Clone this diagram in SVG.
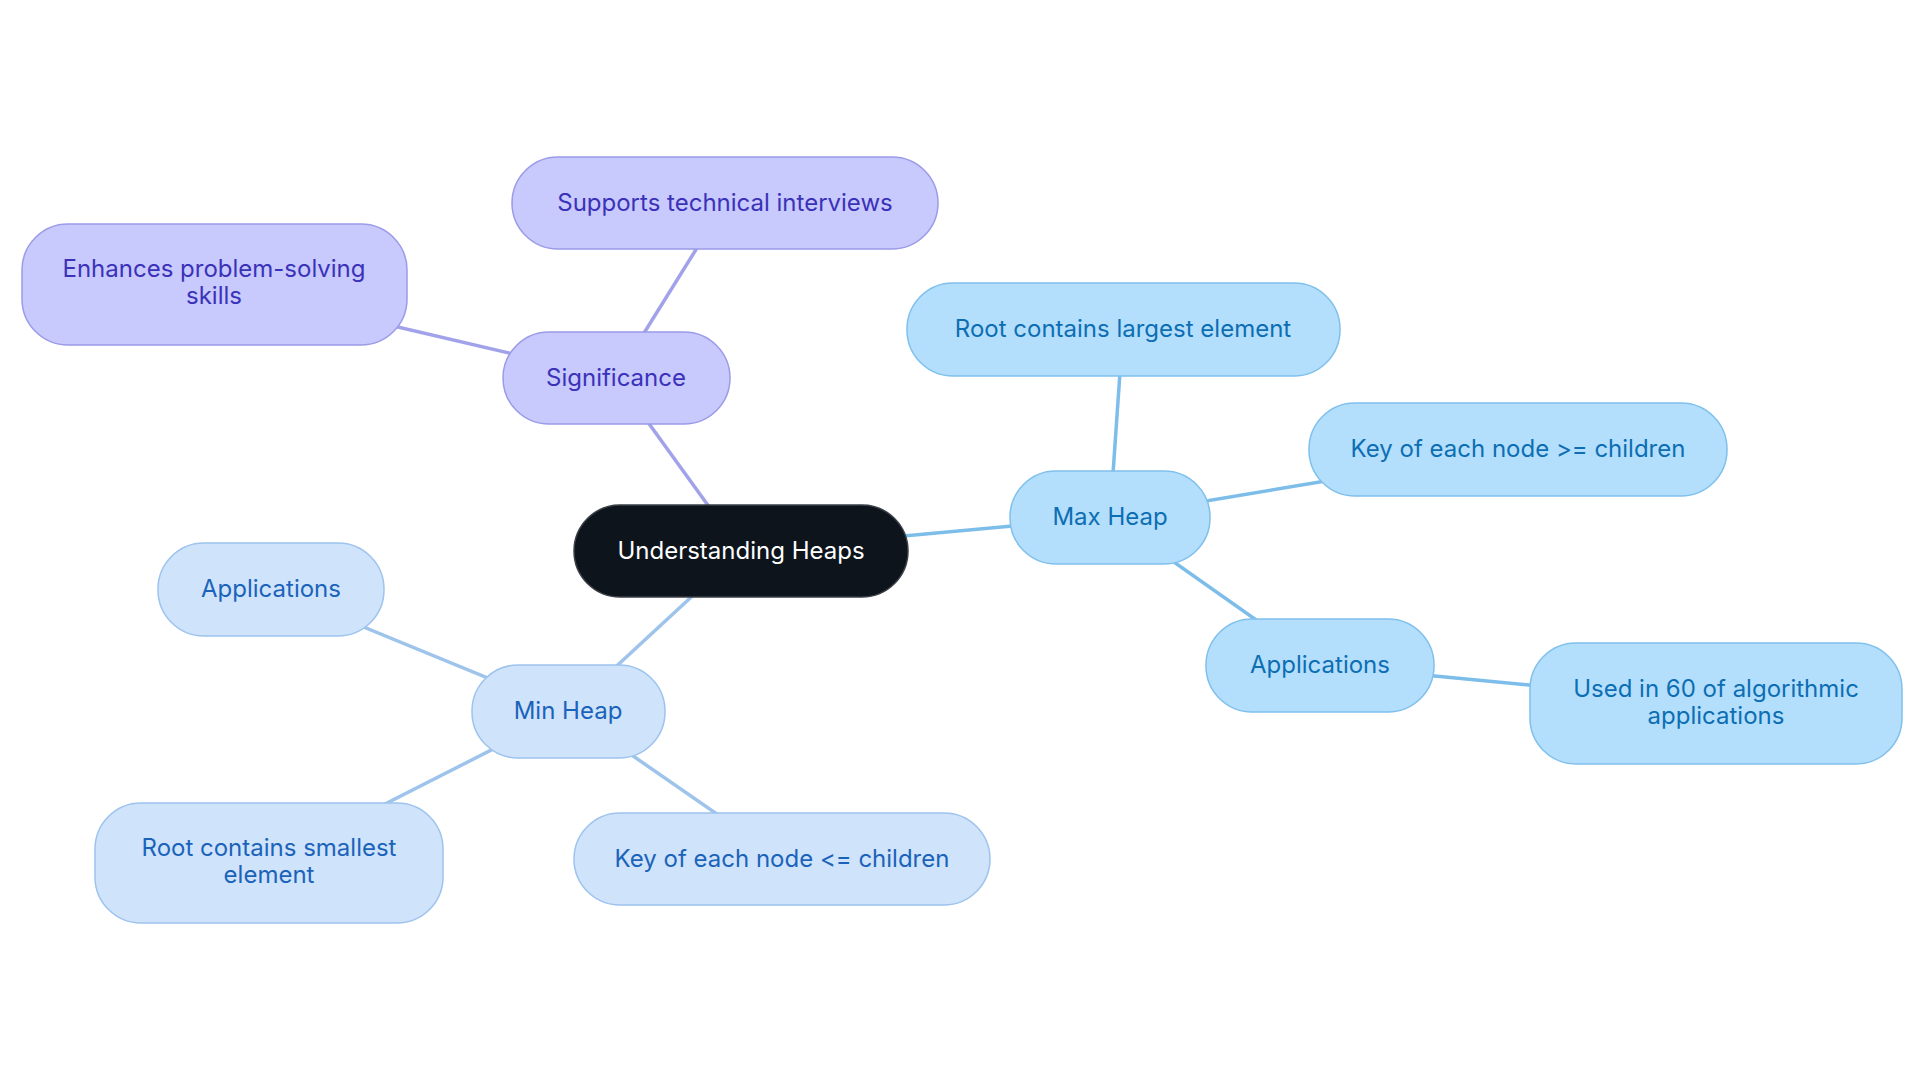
<svg xmlns="http://www.w3.org/2000/svg" width="1920" height="1083" viewBox="0 0 1920 1083">
<style>
text{font-family:Inter,"Noto Sans","Liberation Sans",sans-serif;font-size:24px;text-anchor:middle}
.p rect{fill:#c8c9fd;stroke:#9b9be8;stroke-width:1.5}
.p text{fill:#3a32b8}
.b rect{fill:#b3dffc;stroke:#7fc0ec;stroke-width:1.5}
.b text{fill:#0d6eb3}
.m rect{fill:#cfe3fb;stroke:#9dc3ee;stroke-width:1.5}
.m text{fill:#1b63ba}
.r rect{fill:#0d141c;stroke:#3a3f46;stroke-width:1.5}
.r text{fill:#ffffff}
#connectors line{stroke-width:3.5;fill:none}
.cp{stroke:#a1a2ea}
.cb{stroke:#7cbde9}
.cm{stroke:#9ec4ec}
</style>
<rect width="1920" height="1083" fill="#ffffff"/>
<g id="connectors">
<line class="cp" x1="741" y1="551" x2="616" y2="378"/>
<line class="cp" x1="616" y1="378" x2="725" y2="203"/>
<line class="cp" x1="616" y1="378" x2="214" y2="284"/>
<line class="cb" x1="741" y1="551" x2="1110" y2="517"/>
<line class="cb" x1="1110" y1="517" x2="1123" y2="329"/>
<line class="cb" x1="1110" y1="517" x2="1518" y2="449"/>
<line class="cb" x1="1110" y1="517" x2="1320" y2="665"/>
<line class="cb" x1="1320" y1="665" x2="1716" y2="703"/>
<line class="cm" x1="741" y1="551" x2="568" y2="711"/>
<line class="cm" x1="568" y1="711" x2="271" y2="589"/>
<line class="cm" x1="568" y1="711" x2="269" y2="863"/>
<line class="cm" x1="568" y1="711" x2="782" y2="859"/>
</g>
<g id="root" class="r"><rect x="574" y="505" width="334" height="92" rx="46"/><text x="741" y="559">Understanding Heaps</text></g>
<g id="significance" class="p"><rect x="503" y="332" width="227" height="92" rx="46"/><text x="616" y="386">Significance</text></g>
<g id="supports" class="p"><rect x="512" y="157" width="426" height="92" rx="46"/><text x="725" y="211">Supports technical interviews</text></g>
<g id="enhances" class="p"><rect x="22" y="224" width="385" height="121" rx="46"/><text x="214" y="277">Enhances problem-solving</text><text x="214" y="304">skills</text></g>
<g id="maxheap" class="b"><rect x="1010" y="471" width="200" height="93" rx="46"/><text x="1110" y="525">Max Heap</text></g>
<g id="rootlargest" class="b"><rect x="907" y="283" width="433" height="93" rx="46"/><text x="1123" y="337">Root contains largest element</text></g>
<g id="keygte" class="b"><rect x="1309" y="403" width="418" height="93" rx="46"/><text x="1518" y="457">Key of each node &gt;= children</text></g>
<g id="appsmax" class="b"><rect x="1206" y="619" width="228" height="93" rx="46"/><text x="1320" y="673">Applications</text></g>
<g id="used60" class="b"><rect x="1530" y="643" width="372" height="121" rx="46"/><text x="1716" y="697">Used in 60 of algorithmic</text><text x="1716" y="724">applications</text></g>
<g id="minheap" class="m"><rect x="472" y="665" width="193" height="93" rx="46"/><text x="568" y="719">Min Heap</text></g>
<g id="appsmin" class="m"><rect x="158" y="543" width="226" height="93" rx="46"/><text x="271" y="597">Applications</text></g>
<g id="rootsmallest" class="m"><rect x="95" y="803" width="348" height="120" rx="46"/><text x="269" y="856">Root contains smallest</text><text x="269" y="883">element</text></g>
<g id="keylte" class="m"><rect x="574" y="813" width="416" height="92" rx="46"/><text x="782" y="867">Key of each node &lt;= children</text></g>
</svg>
